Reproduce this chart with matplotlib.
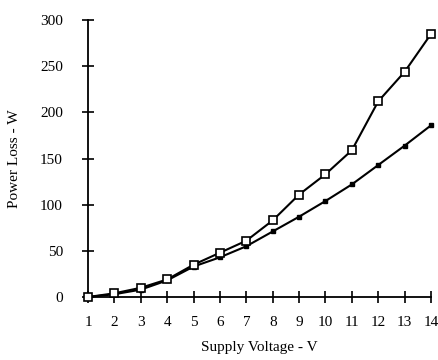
import matplotlib
matplotlib.use("Agg")
import matplotlib.pyplot as plt

voltage = [1, 2, 3, 4, 5, 6, 7, 8, 9, 10, 11, 12, 13, 14]
loss_open = [0, 4, 10, 19, 35, 48, 61, 83, 111, 133, 159, 212, 244, 285]
loss_filled = [0, 3, 8, 18, 33, 43, 55, 71, 87, 104, 122, 143, 164, 186]
yticks = [0, 50, 100, 150, 200, 250, 300]

plt.rcParams['font.family'] = ['Liberation Serif', 'DejaVu Serif']

fig = plt.figure(figsize=(4.38, 3.6), dpi=100)
ax = fig.add_axes([0.201, 0.175, 0.783, 0.769])

ax.plot(voltage, loss_filled, color='black', lw=1.5, marker='s', ms=3,
        mfc='black', mec='black', clip_on=False, zorder=3)
ax.plot(voltage, loss_open, color='black', lw=1.5, marker='s', ms=5.5,
        mfc='white', mec='black', mew=1.2, clip_on=False, zorder=4)

ax.set_xlim(1, 14)
ax.set_ylim(0, 300)
ax.set_xticks(voltage)
ax.set_yticks(yticks)
for s in ['top', 'right']:
    ax.spines[s].set_visible(False)
for s in ['left', 'bottom']:
    ax.spines[s].set_linewidth(1.3)
ax.tick_params(direction='inout', length=8, width=1.2, labelsize=11)
ax.tick_params(axis='y', pad=14)
ax.tick_params(axis='x', pad=10)
ax.set_xlabel('Supply Voltage - V', fontsize=11, labelpad=8)
ax.set_ylabel('Power Loss - W', fontsize=11, labelpad=14)

fig.savefig('out.png', dpi=100)
